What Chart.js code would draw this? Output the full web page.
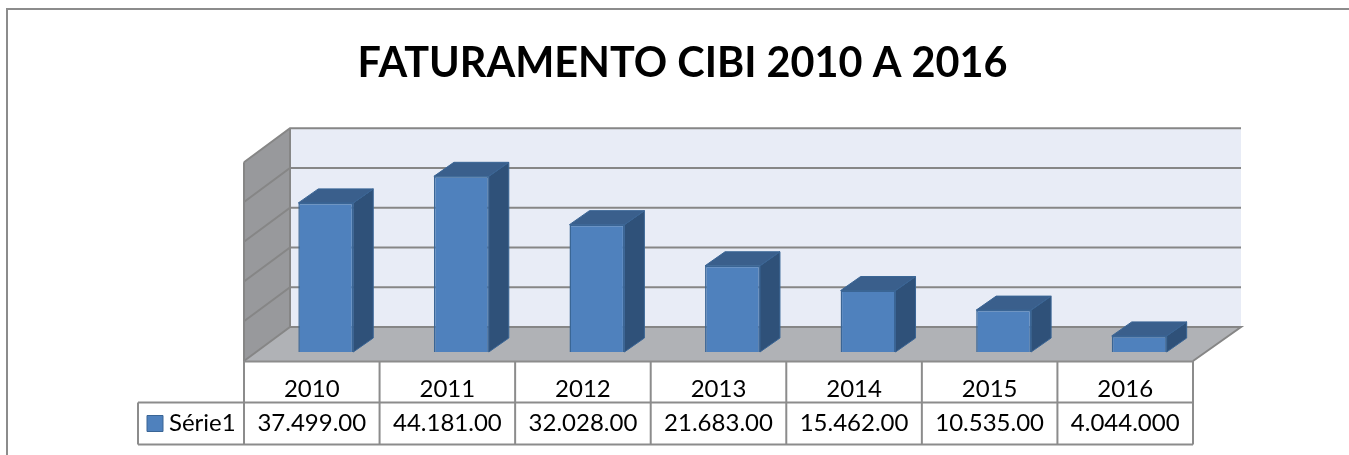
<!DOCTYPE html>
<html>
<head>
<meta charset="utf-8">
<title>Faturamento CIBI</title>
<script src="https://cdn.jsdelivr.net/npm/chart.js@4"></script>
<style>
  html, body { margin: 0; padding: 0; background: #fff; overflow: hidden; }
  #wrap { position: relative; width: 1349px; height: 455px; }
</style>
</head>
<body>
<div id="wrap"><canvas id="myChart"></canvas></div>
<script>
// data
const titleText = "FATURAMENTO CIBI 2010 A 2016";
const seriesName = "Série1";
const years = ["2010", "2011", "2012", "2013", "2014", "2015", "2016"];
const values = [37499000, 44181000, 32028000, 21683000, 15462000, 10535000, 4044000];
const tableLabels = ["37.499.00", "44.181.00", "32.028.00", "21.683.00", "15.462.00", "10.535.00", "4.044.000"];
const yMax = 50000000;
const yStep = 10000000;

const FONT = "Lato, Carlito, sans-serif";
const GRID = "#868686";

// how far the back wall and the table front sit from the plane of the bars
const back = { dx: 32, dxRight: 34, dy: -25 };
const front = { dx: -14, dy: 9 };
// depth of one bar
const bar = { dx: 20, dy: -14 };

function poly(ctx, pts, fill, stroke, lw) {
  ctx.beginPath();
  pts.forEach((p, i) => (i ? ctx.lineTo(p[0], p[1]) : ctx.moveTo(p[0], p[1])));
  ctx.closePath();
  if (fill) {
    ctx.fillStyle = fill;
    ctx.fill();
  }
  if (stroke) {
    ctx.strokeStyle = stroke;
    ctx.lineWidth = lw || 1;
    ctx.stroke();
  }
}

// walls, floor and gridlines, then the side and top faces of each bar
const box3d = {
  id: "box3d",
  beforeDatasetsDraw(chart) {
    const { ctx, scales, chartArea } = chart;
    const y0 = scales.y.getPixelForValue(0);
    const yTop = scales.y.getPixelForValue(yMax);
    const l = chartArea.left;
    const r = chartArea.right;
    ctx.save();

    // back wall
    poly(ctx, [[l + back.dx, yTop + back.dy], [r + back.dxRight, yTop + back.dy],
      [r + back.dxRight, y0 + back.dy], [l + back.dx, y0 + back.dy]], "#e8ecf6");
    // left wall
    poly(ctx, [[l + front.dx, yTop + front.dy], [l + back.dx, yTop + back.dy],
      [l + back.dx, y0 + back.dy], [l + front.dx, y0 + front.dy]], "#98999c");
    // floor
    poly(ctx, [[l + front.dx, y0 + front.dy], [l + back.dx, y0 + back.dy],
      [r + back.dxRight, y0 + back.dy], [r + front.dx, y0 + front.dy]], "#b0b2b6");

    // gridlines
    ctx.strokeStyle = GRID;
    ctx.lineWidth = 2;
    for (let v = 0; v <= yMax; v += yStep) {
      const y = scales.y.getPixelForValue(v);
      ctx.beginPath();
      ctx.moveTo(l + front.dx, y + front.dy);
      ctx.lineTo(l + back.dx, y + back.dy);
      ctx.lineTo(r + back.dxRight, y + back.dy);
      if (v === 0) ctx.lineTo(r + front.dx, y + front.dy);
      ctx.stroke();
    }
    ctx.beginPath();
    ctx.moveTo(l + back.dx, yTop + back.dy);
    ctx.lineTo(l + back.dx, y0 + back.dy);
    ctx.moveTo(l + front.dx, yTop + front.dy);
    ctx.lineTo(l + front.dx, y0 + front.dy);
    ctx.stroke();

    // bar depth faces
    chart.getDatasetMeta(0).data.forEach((el) => {
      const p = el.getProps(["x", "y", "base", "width"], true);
      const x1 = p.x - p.width / 2;
      const x2 = p.x + p.width / 2;
      poly(ctx, [[x2, p.y], [x2 + bar.dx, p.y + bar.dy], [x2 + bar.dx, p.base + bar.dy], [x2, p.base]],
        "#2f5179", "#3a6595", 1);
      poly(ctx, [[x1, p.y], [x1 + bar.dx, p.y + bar.dy], [x2 + bar.dx, p.y + bar.dy], [x2, p.y]],
        "#3a5f8c", "#3a6595", 1);
    });
    ctx.restore();
  },

  // data table under the floor
  afterDraw(chart) {
    const { ctx, scales, chartArea } = chart;
    const y0 = scales.y.getPixelForValue(0);
    const l = chartArea.left + front.dx;
    const r = chartArea.right + front.dx;
    const cell = (r - l) / years.length;
    const top = y0 + front.dy;
    const mid = top + 41.5;
    const bottom = mid + 42;
    const legendLeft = l - 106;

    ctx.save();
    ctx.strokeStyle = "#8c8c8c";
    ctx.lineWidth = 2;
    ctx.beginPath();
    for (let i = 0; i <= years.length; i++) {
      ctx.moveTo(l + i * cell, top);
      ctx.lineTo(l + i * cell, bottom);
    }
    ctx.moveTo(l, top + 0.5);
    ctx.lineTo(r, top + 0.5);
    ctx.moveTo(legendLeft, mid);
    ctx.lineTo(r, mid);
    ctx.moveTo(legendLeft, bottom);
    ctx.lineTo(r, bottom);
    ctx.moveTo(legendLeft, mid);
    ctx.lineTo(legendLeft, bottom);
    ctx.stroke();

    ctx.fillStyle = "#000";
    ctx.font = "24px " + FONT;
    ctx.textAlign = "center";
    ctx.textBaseline = "middle";
    tableLabels.forEach((t, i) => ctx.fillText(t, l + (i + 0.5) * cell, (mid + bottom) / 2));

    ctx.textAlign = "left";
    ctx.fillText(seriesName, legendLeft + 31, (mid + bottom) / 2);
    poly(ctx, [[legendLeft + 9, mid + 13], [legendLeft + 25, mid + 13],
      [legendLeft + 25, mid + 29], [legendLeft + 9, mid + 29]], "#4f81bd", "#3a6595", 1);
    ctx.restore();
  },
};

// frame around the chart, title centred on the frame rather than on the plot
const frame = {
  id: "frame",
  afterLayout(chart) {
    chart.titleBlock.left = 16;
    chart.titleBlock.right = chart.width;
  },
  beforeDraw(chart) {
    const { ctx } = chart;
    ctx.save();
    ctx.strokeStyle = "#8c8c8c";
    ctx.lineWidth = 2;
    ctx.beginPath();
    ctx.moveTo(7, chart.height);
    ctx.lineTo(7, 9);
    ctx.lineTo(1349, 9);
    ctx.stroke();
    ctx.restore();
  },
};

const config = {
  type: "bar",
  data: {
    labels: years,
    datasets: [
      {
        label: seriesName,
        data: values,
        backgroundColor: "#4f81bd",
        borderColor: "#3a6595",
        borderWidth: 1.5,
        barPercentage: 0.405,
        categoryPercentage: 1,
      },
    ],
  },
  options: {
    responsive: true,
    maintainAspectRatio: false,
    animation: false,
    layout: {
      padding: { left: 258, right: 142, top: 0, bottom: 0 },
    },
    scales: {
      x: {
        grid: { display: false },
        border: { display: false },
        ticks: {
          color: "#000",
          font: { family: FONT, size: 24 },
          padding: 15,
          labelOffset: -14,
          maxRotation: 0,
        },
        afterFit(scale) {
          scale.height = 103;
        },
      },
      y: {
        display: false,
        min: 0,
        max: yMax,
        ticks: { stepSize: yStep },
      },
    },
    plugins: {
      legend: { display: false },
      tooltip: { enabled: false },
      title: {
        display: true,
        text: titleText,
        color: "#000",
        font: { family: FONT, size: 41.4, weight: "bold" },
        padding: { top: 39, bottom: 64.5 },
      },
    },
  },
  plugins: [frame, box3d],
};

const ctx = document.getElementById("myChart").getContext("2d");
document.getElementById("myChart").parentNode.style.height = "455px";
new Chart(ctx, config);
</script>
</body>
</html>
